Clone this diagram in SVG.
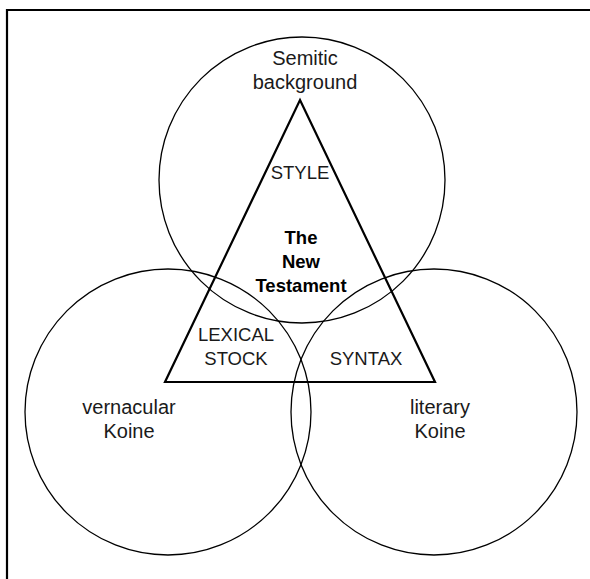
<svg xmlns="http://www.w3.org/2000/svg" width="590" height="579" viewBox="0 0 590 579">
<style>
.c{fill:none;stroke:#000;stroke-width:1.3}
.t{font-family:"Liberation Sans",Arial,sans-serif;font-size:18.5px;fill:#1a1a1a;text-anchor:middle}
.l{font-size:20px}
.b{font-weight:bold;fill:#000}
</style>
<rect width="590" height="579" fill="#fff"/>
<path d="M7,579 V10 H590" fill="none" stroke="#000" stroke-width="2.2"/>
<g id="semitic">
<circle class="c" cx="302" cy="180" r="143"/>
<text class="t l" x="305" y="65">Semitic</text>
<text class="t l" x="305" y="89">background</text>
</g>
<g id="vernacular">
<circle class="c" cx="168" cy="412" r="143"/>
<text class="t l" x="129" y="414">vernacular</text>
<text class="t l" x="129" y="438">Koine</text>
</g>
<g id="literary">
<circle class="c" cx="434" cy="412" r="143"/>
<text class="t l" x="440" y="414">literary</text>
<text class="t l" x="440" y="438">Koine</text>
</g>
<g id="nt">
<polygon points="300,100 435,382 165,382" fill="none" stroke="#000" stroke-width="2.2" stroke-linejoin="miter"/>
<text class="t" x="300" y="179">STYLE</text>
<text class="t b" x="301" y="244">The</text>
<text class="t b" x="301" y="268">New</text>
<text class="t b" x="301" y="292">Testament</text>
<text class="t" x="236" y="341">LEXICAL</text>
<text class="t" x="236" y="365">STOCK</text>
<text class="t" x="366" y="365">SYNTAX</text>
</g>
<g id="connectors"/>
</svg>
